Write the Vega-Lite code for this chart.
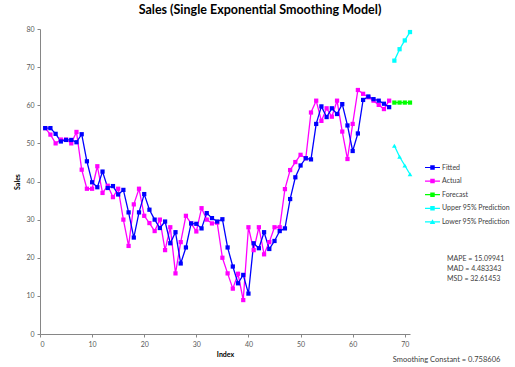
{
  "$schema": "https://vega.github.io/schema/vega-lite/v6.json",
  "width": 370,
  "height": 305,
  "autosize": {"type": "none"},
  "padding": {"left": 40, "top": 29, "right": 105, "bottom": 33},
  "background": "white",
  "config": {"view": {"stroke": null}, "font": "Lato",
    "axisX": {"grid": false, "domainColor": "#868686", "tickColor": "#868686", "tickSize": 3, "labelFontSize": 7, "labelColor": "#595959", "labelPadding": 3, "titleFontSize": 7, "titleFontWeight": "bold", "titleColor": "#000000", "titlePadding": 3},
    "axisY": {"grid": false, "domainColor": "#868686", "tickColor": "#868686", "tickSize": 3, "labelFontSize": 7, "labelColor": "#595959", "labelPadding": 3, "titleFontSize": 7, "titleFontWeight": "bold", "titleColor": "#000000", "titlePadding": 5}},
  "title": {"text": "Sales (Single Exponential Smoothing Model)", "fontSize": 12.5, "font": "Lato", "fontWeight": "bold", "color": "#000000", "anchor": "middle", "dx": 35, "offset": 9},
  "datasets": {
    "series": [
    {"s":"Actual","i":1,"v":54.0},{"s":"Actual","i":2,"v":52.3},{"s":"Actual","i":3,"v":50.0},{"s":"Actual","i":4,"v":51.0},{"s":"Actual","i":5,"v":51.0},{"s":"Actual","i":6,"v":50.0},{"s":"Actual","i":7,"v":53.0},{"s":"Actual","i":8,"v":43.1},{"s":"Actual","i":9,"v":38.1},{"s":"Actual","i":10,"v":38.1},
    {"s":"Actual","i":11,"v":44.0},{"s":"Actual","i":12,"v":37.0},{"s":"Actual","i":13,"v":38.9},{"s":"Actual","i":14,"v":35.9},{"s":"Actual","i":15,"v":38.1},{"s":"Actual","i":16,"v":30.0},{"s":"Actual","i":17,"v":23.1},{"s":"Actual","i":18,"v":34.0},{"s":"Actual","i":19,"v":38.1},{"s":"Actual","i":20,"v":31.0},
    {"s":"Actual","i":21,"v":29.1},{"s":"Actual","i":22,"v":27.0},{"s":"Actual","i":23,"v":30.0},{"s":"Actual","i":24,"v":22.0},{"s":"Actual","i":25,"v":28.0},{"s":"Actual","i":26,"v":15.9},{"s":"Actual","i":27,"v":24.1},{"s":"Actual","i":28,"v":31.0},{"s":"Actual","i":29,"v":29.0},{"s":"Actual","i":30,"v":26.9},
    {"s":"Actual","i":31,"v":33.0},{"s":"Actual","i":32,"v":30.0},{"s":"Actual","i":33,"v":29.0},{"s":"Actual","i":34,"v":29.2},{"s":"Actual","i":35,"v":20.0},{"s":"Actual","i":36,"v":15.9},{"s":"Actual","i":37,"v":11.9},{"s":"Actual","i":38,"v":15.8},{"s":"Actual","i":39,"v":8.9},{"s":"Actual","i":40,"v":28.0},
    {"s":"Actual","i":41,"v":22.0},{"s":"Actual","i":42,"v":28.0},{"s":"Actual","i":43,"v":20.9},{"s":"Actual","i":44,"v":24.1},{"s":"Actual","i":45,"v":28.0},{"s":"Actual","i":46,"v":28.0},{"s":"Actual","i":47,"v":38.0},{"s":"Actual","i":48,"v":43.0},{"s":"Actual","i":49,"v":45.1},{"s":"Actual","i":50,"v":47.0},
    {"s":"Actual","i":51,"v":46.1},{"s":"Actual","i":52,"v":58.1},{"s":"Actual","i":53,"v":61.2},{"s":"Actual","i":54,"v":55.9},{"s":"Actual","i":55,"v":59.2},{"s":"Actual","i":56,"v":57.0},{"s":"Actual","i":57,"v":61.2},{"s":"Actual","i":58,"v":53.1},{"s":"Actual","i":59,"v":45.9},{"s":"Actual","i":60,"v":55.1},
    {"s":"Actual","i":61,"v":64.0},{"s":"Actual","i":62,"v":63.0},{"s":"Actual","i":63,"v":62.1},{"s":"Actual","i":64,"v":61.2},{"s":"Actual","i":65,"v":60.1},{"s":"Actual","i":66,"v":59.0},{"s":"Actual","i":67,"v":61.2},
    {"s":"Fitted","i":1,"v":54.0},{"s":"Fitted","i":2,"v":54.0},{"s":"Fitted","i":3,"v":52.5},{"s":"Fitted","i":4,"v":50.5},{"s":"Fitted","i":5,"v":50.9},{"s":"Fitted","i":6,"v":50.9},{"s":"Fitted","i":7,"v":50.3},{"s":"Fitted","i":8,"v":52.4},{"s":"Fitted","i":9,"v":45.3},{"s":"Fitted","i":10,"v":39.8},
    {"s":"Fitted","i":11,"v":38.5},{"s":"Fitted","i":12,"v":42.6},{"s":"Fitted","i":13,"v":38.3},{"s":"Fitted","i":14,"v":38.8},{"s":"Fitted","i":15,"v":36.6},{"s":"Fitted","i":16,"v":37.8},{"s":"Fitted","i":17,"v":31.9},{"s":"Fitted","i":18,"v":25.3},{"s":"Fitted","i":19,"v":31.9},{"s":"Fitted","i":20,"v":36.7},
    {"s":"Fitted","i":21,"v":32.6},{"s":"Fitted","i":22,"v":30.0},{"s":"Fitted","i":23,"v":27.8},{"s":"Fitted","i":24,"v":29.5},{"s":"Fitted","i":25,"v":23.8},{"s":"Fitted","i":26,"v":26.7},{"s":"Fitted","i":27,"v":18.5},{"s":"Fitted","i":28,"v":22.7},{"s":"Fitted","i":29,"v":29.0},{"s":"Fitted","i":30,"v":28.9},
    {"s":"Fitted","i":31,"v":27.7},{"s":"Fitted","i":32,"v":31.7},{"s":"Fitted","i":33,"v":30.4},{"s":"Fitted","i":34,"v":29.5},{"s":"Fitted","i":35,"v":30.1},{"s":"Fitted","i":36,"v":22.7},{"s":"Fitted","i":37,"v":17.7},{"s":"Fitted","i":38,"v":13.3},{"s":"Fitted","i":39,"v":15.5},{"s":"Fitted","i":40,"v":10.6},
    {"s":"Fitted","i":41,"v":23.8},{"s":"Fitted","i":42,"v":22.5},{"s":"Fitted","i":43,"v":26.7},{"s":"Fitted","i":44,"v":22.3},{"s":"Fitted","i":45,"v":24.4},{"s":"Fitted","i":46,"v":27.0},{"s":"Fitted","i":47,"v":27.7},{"s":"Fitted","i":48,"v":35.4},{"s":"Fitted","i":49,"v":41.1},{"s":"Fitted","i":50,"v":44.2},
    {"s":"Fitted","i":51,"v":46.1},{"s":"Fitted","i":52,"v":45.8},{"s":"Fitted","i":53,"v":55.1},{"s":"Fitted","i":54,"v":59.7},{"s":"Fitted","i":55,"v":56.9},{"s":"Fitted","i":56,"v":59.2},{"s":"Fitted","i":57,"v":57.7},{"s":"Fitted","i":58,"v":60.3},{"s":"Fitted","i":59,"v":54.7},{"s":"Fitted","i":60,"v":48.0},
    {"s":"Fitted","i":61,"v":52.6},{"s":"Fitted","i":62,"v":61.4},{"s":"Fitted","i":63,"v":62.3},{"s":"Fitted","i":64,"v":61.6},{"s":"Fitted","i":65,"v":61.2},{"s":"Fitted","i":66,"v":60.4},{"s":"Fitted","i":67,"v":59.5},
    {"s":"Forecast","i":68,"v":60.7},{"s":"Forecast","i":69,"v":60.7},{"s":"Forecast","i":70,"v":60.7},{"s":"Forecast","i":71,"v":60.7},
    {"s":"Upper 95% Prediction","i":68,"v":71.7},{"s":"Upper 95% Prediction","i":69,"v":74.7},{"s":"Upper 95% Prediction","i":70,"v":77.0},{"s":"Upper 95% Prediction","i":71,"v":79.2},
    {"s":"Lower 95% Prediction","i":68,"v":49.4},{"s":"Lower 95% Prediction","i":69,"v":46.5},{"s":"Lower 95% Prediction","i":70,"v":44.2},{"s":"Lower 95% Prediction","i":71,"v":41.9}
    ],
    "stats": [{"note": "MAPE = 15.09941\nMAD = 4.483343\nMSD = 32.61453"}],
    "smoothing": [{"note": "Smoothing Constant = 0.758606"}]
  },
  "layer": [
    {"data": {"name": "series"},
      "mark": {"type": "line", "strokeWidth": 1.3},
      "encoding": {
        "x": {"field": "i", "type": "quantitative", "scale": {"domain": [0, 71], "nice": false}, "axis": {"title": "Index", "values": [0,10,20,30,40,50,60,70]}},
        "y": {"field": "v", "type": "quantitative", "scale": {"domain": [0, 80], "nice": false}, "axis": {"title": "Sales", "values": [0,10,20,30,40,50,60,70,80]}},
        "color": {"field": "s", "type": "nominal",
          "scale": {"domain": ["Fitted","Actual","Forecast","Upper 95% Prediction","Lower 95% Prediction"], "range": ["#0000FF","#FF00FF","#00FF00","#00FFFF","#00FFFF"]},
          "legend": {"orient": "none", "legendX": 387.5, "legendY": 133.5, "title": null, "padding": 0,
            "symbolSize": 100, "rowPadding": 5.6, "labelOffset": 4.5, "labelFontSize": 7, "labelColor": "#404040", "labelFont": "Lato",
            "symbolType": "M-1.5,-0.12H1.5V0.12H-1.5Z M-0.45,-0.45H0.45V0.45H-0.45Z",
            "encode": {"symbols": {"update": {
              "fill": {"signal": "scale('color', datum.value)"},
              "strokeWidth": {"value": 0},
              "opacity": {"value": 1},
              "shape": {"signal": "datum.value === 'Lower 95% Prediction' ? 'M-1.5,-0.12H1.5V0.12H-1.5Z M0,-0.55L0.55,0.4H-0.55Z' : 'M-1.5,-0.12H1.5V0.12H-1.5Z M-0.45,-0.45H0.45V0.45H-0.45Z'"}
            }}}}
        }
      }
    },
    {"data": {"name": "series"},
      "transform": [{"filter": "datum.s !== 'Lower 95% Prediction'"}],
      "mark": {"type": "point", "shape": "square", "filled": true, "opacity": 1, "size": 18},
      "encoding": {
        "x": {"field": "i", "type": "quantitative", "axis": {"title": "Index", "values": [0,10,20,30,40,50,60,70]}},
        "y": {"field": "v", "type": "quantitative", "axis": {"title": "Sales", "values": [0,10,20,30,40,50,60,70,80]}},
        "color": {"field": "s", "type": "nominal"}}
    },
    {"data": {"name": "series"},
      "transform": [{"filter": "datum.s === 'Lower 95% Prediction'"}],
      "mark": {"type": "point", "shape": "triangle-up", "filled": true, "opacity": 1, "size": 22},
      "encoding": {
        "x": {"field": "i", "type": "quantitative", "axis": {"title": "Index", "values": [0,10,20,30,40,50,60,70]}},
        "y": {"field": "v", "type": "quantitative", "axis": {"title": "Sales", "values": [0,10,20,30,40,50,60,70,80]}},
        "color": {"field": "s", "type": "nominal"}}
    },
    {"data": {"name": "stats"},
      "mark": {"type": "text", "align": "left", "baseline": "middle", "fontSize": 7, "font": "Lato", "color": "#404040", "lineHeight": 10, "lineBreak": "\n"},
      "encoding": {
        "x": {"datum": 78.1, "type": "quantitative", "axis": {"title": "Index", "values": [0,10,20,30,40,50,60,70]}},
        "y": {"datum": 19.6, "type": "quantitative", "axis": {"title": "Sales", "values": [0,10,20,30,40,50,60,70,80]}},
        "text": {"field": "note"}}},
    {"data": {"name": "smoothing"},
      "mark": {"type": "text", "align": "left", "baseline": "middle", "fontSize": 7.5, "font": "Lato", "color": "#404040"},
      "encoding": {
        "x": {"datum": 67.7, "type": "quantitative", "axis": {"title": "Index", "values": [0,10,20,30,40,50,60,70]}},
        "y": {"datum": -6.8, "type": "quantitative", "axis": {"title": "Sales", "values": [0,10,20,30,40,50,60,70,80]}},
        "text": {"field": "note"}}}
  ]
}
